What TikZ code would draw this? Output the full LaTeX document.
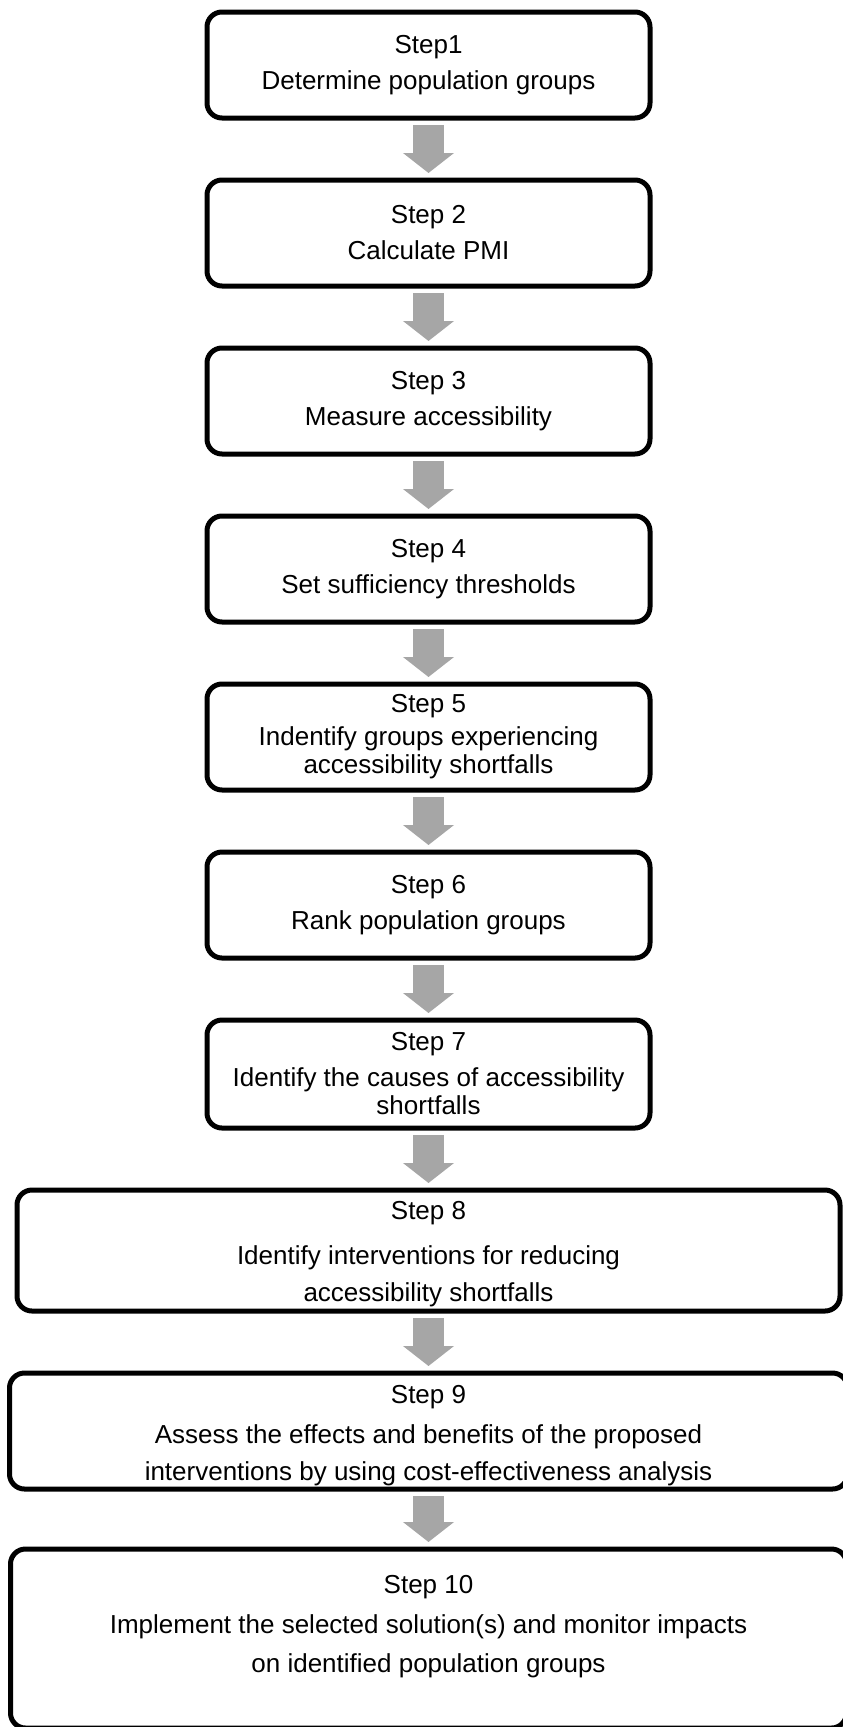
\documentclass[tikz,border=0pt]{standalone}
\usepackage{fontspec}
\setmainfont{Liberation Sans}
\usetikzlibrary{arrows.meta,positioning}
\definecolor{arrowgray}{HTML}{A6A6A6}

\begin{document}
\begin{tikzpicture}[x=1pt,y=1pt,node distance=62pt,
  box/.style={draw,line width=5pt,rounded corners=15pt,align=center,inner sep=0pt,outer sep=0pt,
    minimum width=443pt,minimum height=106pt,font=\fontsize{26}{28}\selectfont},
  wide/.style={minimum width=823pt},
  flow/.style={arrowgray,line width=31pt,-{Triangle[length=20pt,width=50pt]},
    shorten <=7pt,shorten >=7pt}]
\useasboundingbox (0,0) rectangle (843,-1727);
\clip (0,0) rectangle (843,-1727);
\node[box] (s1) at (428.5,-65) {Step1\\[8pt]Determine population groups};
\node[box,below=of s1] (s2) {Step 2\\[8pt]Calculate PMI};
\node[box,below=of s2] (s3) {Step 3\\[8pt]Measure accessibility};
\node[box,below=of s3] (s4) {Step 4\\[8pt]Set sufficiency thresholds};
\node[box,below=of s4] (s5) {Step 5\\[5pt]Indentify groups experiencing\\accessibility shortfalls};
\node[box,below=of s5] (s6) {Step 6\\[8pt]Rank population groups};
\node[box,below=of s6,minimum height=108pt] (s7) {Step 7\\[8pt]Identify the causes of accessibility\\shortfalls};
\node[box,wide,below=of s7,minimum height=121pt] (s8) {\rule{0pt}{26pt}Step 8\\[17pt]Identify interventions for reducing\\[9pt]accessibility shortfalls};
\node[box,wide,below=of s8,minimum width=838pt,minimum height=116pt] (s9) {\rule{0pt}{27pt}Step 9\\[12pt]Assess the effects and benefits of the proposed\\[9pt]interventions by using cost-effectiveness analysis};
\node[box,wide,below=60pt of s9,minimum width=836pt,minimum height=179pt] (s10) {Step 10\\[12pt]Implement the selected solution(s) and monitor impacts\\[11pt]on identified population groups\rule[-29pt]{0pt}{1pt}};
\foreach \a/\b in {s1/s2,s2/s3,s3/s4,s4/s5,s5/s6,s6/s7,s7/s8,s8/s9,s9/s10}
  \draw[flow] (\a) -- (\b);
\end{tikzpicture}
\end{document}
